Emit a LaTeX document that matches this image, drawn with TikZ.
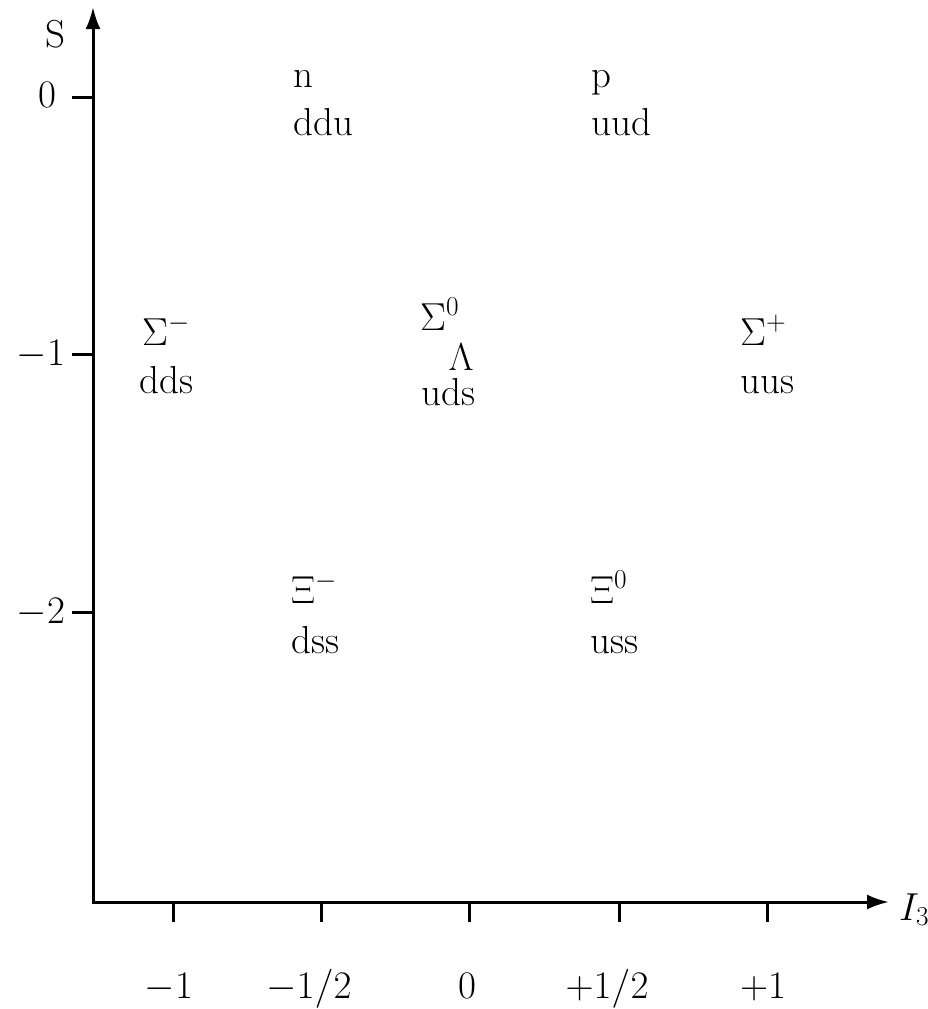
\RequirePackage{fix-cm}
\documentclass[tikz,border=0pt]{standalone}
\usetikzlibrary{arrows.meta}
\begin{document}
\begin{tikzpicture}[x=1pt,y=-1pt,
  axis/.style={line width=3pt},
  tickline/.style={line width=3pt},
  lbl/.style={inner sep=0pt,anchor=base west,font=\fontsize{39}{46}\selectfont},
  ticklbl/.style={inner sep=0pt,anchor=base,font=\fontsize{39}{46}\selectfont},
  ylbl/.style={inner sep=0pt,anchor=base,font=\fontsize{39}{46}\selectfont}]
\useasboundingbox (0,0) rectangle (928,1009);
\coordinate (ytop) at (93,7);
\coordinate (orig) at (93,902);
\coordinate (xend) at (889,902);
\draw[axis,{Latex[length=22pt,width=15pt]}-{Latex[length=22pt,width=15pt]}] (ytop) -- (orig) -- (xend);
% x ticks
\foreach \x [count=\i] in {173,321,469,619,767}{
  \coordinate (xt\i) at (\x,902);
  \coordinate (xb\i) at (\x,922);
  \draw[tickline] (xt\i) -- (xb\i);
}
\node[ticklbl] (lx1) at (169,998) {$-1$};
\node[ticklbl] (lx2) at (309,998) {$-1/2$};
\node[ticklbl] (lx3) at (467,998) {$0$};
\node[ticklbl] (lx4) at (607,998) {$+1/2$};
\node[ticklbl] (lx5) at (763,998) {$+1$};
% y ticks
\foreach \y [count=\i] in {97,354,612}{
  \coordinate (yt\i) at (72,\y);
  \coordinate (yb\i) at (93,\y);
  \draw[tickline] (yt\i) -- (yb\i);
}
\node[ylbl] (ly1) at (47,107) {$0$};
\node[ylbl] (ly2) at (41,365) {$-1$};
\node[ylbl] (ly3) at (41,623) {$-2$};
% axis labels
\node[ylbl] (Slab) at (55,47) {S};
\node[lbl] (Ilab) at (899,920) {$I_3$};
% particles
\node[lbl] (n1) at (293,87) {n};
\node[lbl] (n2) at (293,135) {ddu};
\node[lbl] (p1) at (591,87) {p};
\node[lbl] (p2) at (591,135) {uud};
\node[lbl] (sm1) at (142,345) {$\Sigma^-$};
\node[lbl] (sm2) at (139,393) {dds};
\node[lbl] (s01) at (420,330) {$\Sigma^0$};
\node[ticklbl] (s02) at (461,370) {$\Lambda$};
\node[lbl] (s03) at (421,405) {uds};
\node[lbl] (sp1) at (740,345) {$\Sigma^+$};
\node[lbl] (sp2) at (740,393) {uus};
\node[lbl] (xm1) at (291,603) {$\Xi^-$};
\node[lbl] (xm2) at (291,653) {dss};
\node[lbl] (x01) at (590,603) {$\Xi^0$};
\node[lbl] (x02) at (590,653) {uss};
\end{tikzpicture}
\end{document}
